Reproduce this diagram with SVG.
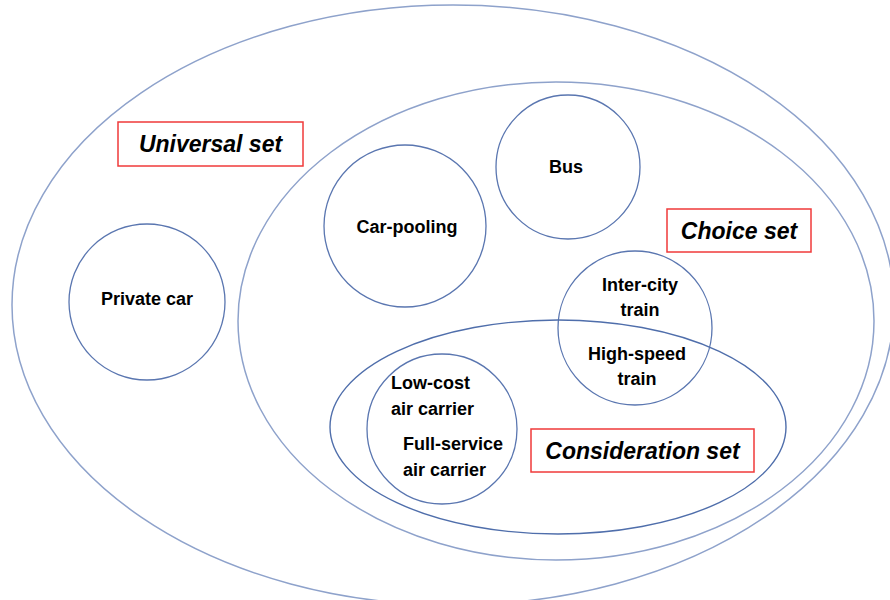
<svg xmlns="http://www.w3.org/2000/svg" width="890" height="600" viewBox="0 0 890 600">
  <style>
    .set { fill: none; stroke: #8ea2cb; stroke-width: 1.5; }
    .inner { fill: none; stroke: #4f6eab; stroke-width: 1.4; }
    .node { fill: #ffffff; stroke: #5a76b0; stroke-width: 1.3; }
    .lbl { font-family: "Liberation Sans", Arial, sans-serif; font-weight: bold; font-size: 18px; fill: #000; }
    .tag { fill: #ffffff; stroke: #f03a3a; stroke-width: 1.5; }
    .tagtxt { font-family: "Liberation Sans", Arial, sans-serif; font-weight: bold; font-style: italic; font-size: 23px; fill: #000; text-anchor: middle; }
  </style>

  <rect width="890" height="600" fill="#ffffff"/>

  <!-- nested sets -->
  <g id="universal-set">
    <ellipse class="set" cx="453" cy="305" rx="441" ry="300"/>
    <rect class="tag" x="118" y="122" width="185" height="44"/>
    <text class="tagtxt" x="210.5" y="152">Universal set</text>
  </g>

  <g id="choice-set">
    <ellipse class="set" cx="556" cy="321" rx="318" ry="239"/>
    <rect class="tag" x="667" y="209" width="144" height="43"/>
    <text class="tagtxt" x="739" y="239">Choice set</text>
  </g>

  <g id="private-car">
    <circle class="node" cx="147" cy="302" r="78"/>
    <text class="lbl" x="147" y="305" text-anchor="middle">Private car</text>
  </g>

  <g id="car-pooling">
    <circle class="node" cx="405" cy="226" r="81"/>
    <text class="lbl" x="407" y="233" text-anchor="middle">Car-pooling</text>
  </g>

  <g id="bus">
    <circle class="node" cx="568" cy="167" r="72"/>
    <text class="lbl" x="566" y="173" text-anchor="middle">Bus</text>
  </g>

  <g id="train">
    <circle class="node" cx="635" cy="328" r="77"/>
    <text class="lbl" x="640" y="291" text-anchor="middle">Inter-city</text>
    <text class="lbl" x="640" y="316" text-anchor="middle">train</text>
    <text class="lbl" x="637" y="360" text-anchor="middle">High-speed</text>
    <text class="lbl" x="637" y="385" text-anchor="middle">train</text>
  </g>

  <g id="consideration-set">
    <ellipse class="inner" cx="558" cy="427" rx="228" ry="107"/>
    <rect class="tag" x="531" y="429" width="223" height="43"/>
    <text class="tagtxt" x="642.5" y="459">Consideration set</text>
  </g>

  <g id="air-carrier">
    <circle class="node" cx="442" cy="429" r="75"/>
    <text class="lbl" x="391" y="389">Low-cost</text>
    <text class="lbl" x="391" y="415">air carrier</text>
    <text class="lbl" x="403" y="450">Full-service</text>
    <text class="lbl" x="403" y="476">air carrier</text>
  </g>

  <g id="connectors"/>
</svg>
